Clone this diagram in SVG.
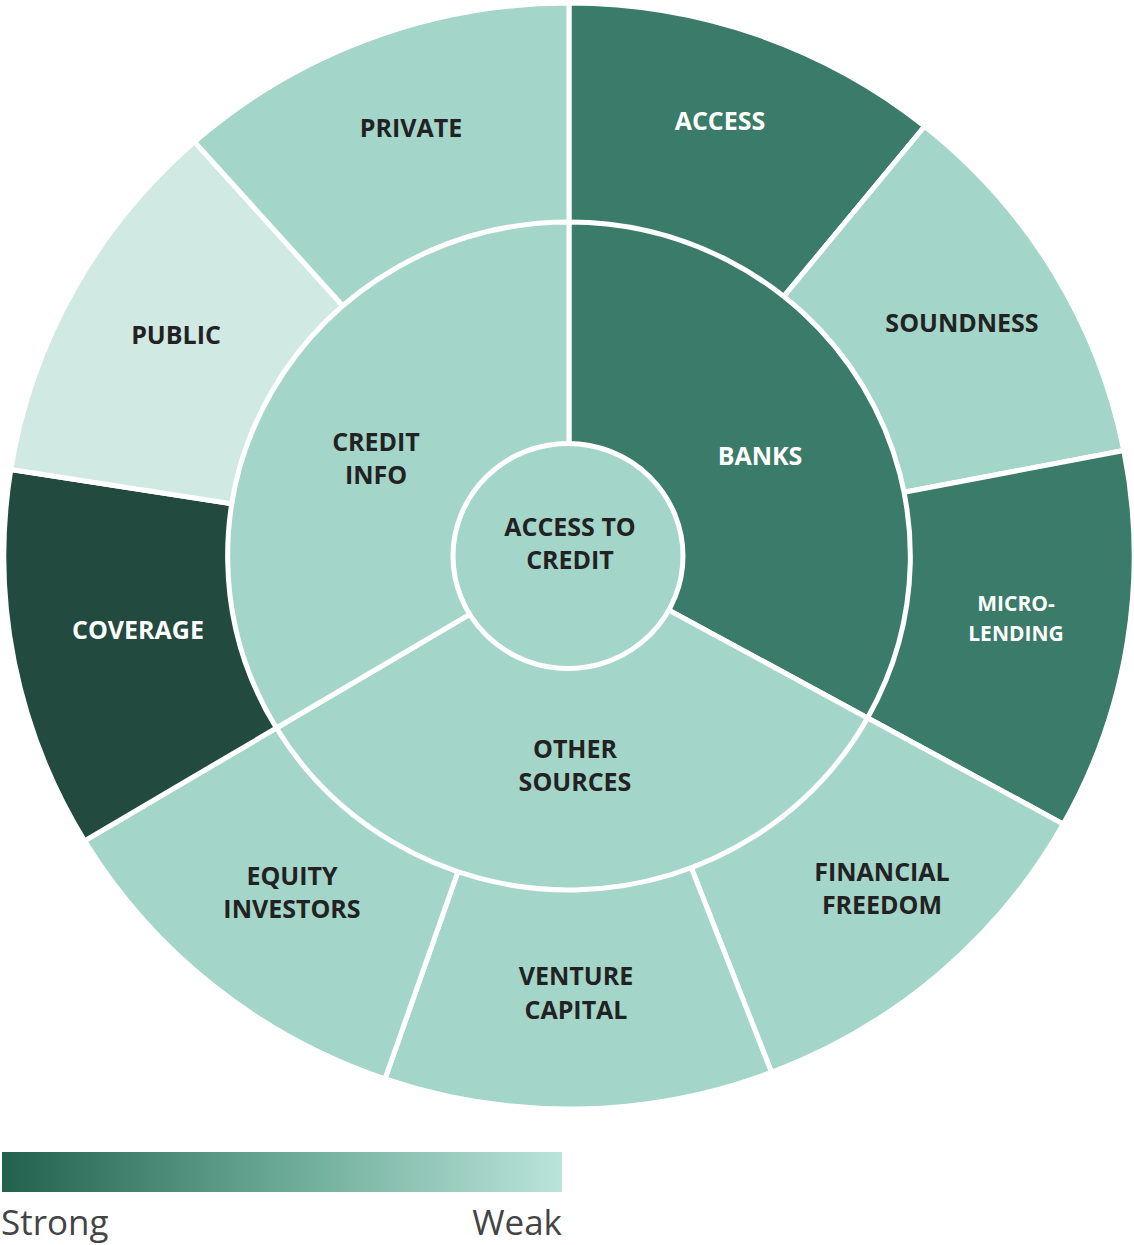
<svg xmlns="http://www.w3.org/2000/svg" width="1134" height="1245" viewBox="0 0 1134 1245">
<style>
.seg{stroke:#fff;stroke-width:5;stroke-linejoin:round;vector-effect:non-scaling-stroke}
.c1{fill:#3A7B69}
.c2{fill:#A4D5C9}
.c3{fill:#D1E9E3}
.c4{fill:#224A3E}
.lbl{font-family:"Open Sans","Liberation Sans",sans-serif;font-weight:700;font-size:25px;text-anchor:middle}
.sm{font-size:21px}
.dk{fill:#222}
.wt{fill:#fff}
.leg{font-family:"Open Sans","Noto Sans",sans-serif;font-size:35px;fill:#444}
</style>
<defs>
<linearGradient id="lg" x1="0" y1="0" x2="1" y2="0">
<stop offset="0" stop-color="#23614F"/>
<stop offset="0.5" stop-color="#6AA996"/>
<stop offset="1" stop-color="#BAE4D9"/>
</linearGradient>
</defs>
<g id="outer-ring">
<g id="access"><path class="seg c1" transform="translate(569,556) scale(1.022,1)" d="M0,0 L0,-553 A553,553 0 0 1 348.01,-429.76 Z"/><text class="lbl wt" x="720" y="130">ACCESS</text></g>
<g id="soundness"><path class="seg c2" transform="translate(569,556) scale(1.022,1)" d="M0,0 L348.01,-429.76 A553,553 0 0 1 542.84,-105.52 Z"/><text class="lbl dk" x="962" y="332">SOUNDNESS</text></g>
<g id="micro-lending"><path class="seg c1" transform="translate(569,556) scale(1.022,1)" d="M0,0 L542.84,-105.52 A553,553 0 0 1 483.66,268.10 Z"/><text class="lbl wt sm" x="1016" y="611">MICRO-</text><text class="lbl wt sm" x="1016" y="641">LENDING</text></g>
<g id="financial-freedom"><path class="seg c2" transform="translate(569,556) scale(1.022,1)" d="M0,0 L483.66,268.10 A553,553 0 0 1 198.18,516.27 Z"/><text class="lbl dk" x="882" y="881">FINANCIAL</text><text class="lbl dk" x="882" y="914">FREEDOM</text></g>
<g id="venture-capital"><path class="seg c2" transform="translate(569,556) scale(1.022,1)" d="M0,0 L198.18,516.27 A553,553 0 0 1 -180.04,522.87 Z"/><text class="lbl dk" x="576" y="985">VENTURE</text><text class="lbl dk" x="576" y="1019">CAPITAL</text></g>
<g id="equity-investors"><path class="seg c2" transform="translate(569,556) scale(1.022,1)" d="M0,0 L-180.04,522.87 A553,553 0 0 1 -474.0,284.82 Z"/><text class="lbl dk" x="292" y="885">EQUITY</text><text class="lbl dk" x="292" y="918">INVESTORS</text></g>
<g id="coverage"><path class="seg c4" transform="translate(569,556) scale(1.022,1)" d="M0,0 L-474.0,284.82 A553,553 0 0 1 -546.19,-86.51 Z"/><text class="lbl wt" x="138" y="639">COVERAGE</text></g>
<g id="public"><path class="seg c3" transform="translate(569,556) scale(1.022,1)" d="M0,0 L-546.19,-86.51 A553,553 0 0 1 -366.43,-414.17 Z"/><text class="lbl dk" x="176" y="344">PUBLIC</text></g>
<g id="private"><path class="seg c2" transform="translate(569,556) scale(1.022,1)" d="M0,0 L-366.43,-414.17 A553,553 0 0 1 0,-553 Z"/><text class="lbl dk" x="411" y="137">PRIVATE</text></g>
</g>
<g id="inner-ring">
<g id="banks"><path class="seg c1" transform="translate(569,556) scale(1.022,1)" d="M0,0 L0,-334 A334,334 0 0 1 292.12,161.93 Z"/><text class="lbl wt" x="760" y="465">BANKS</text></g>
<g id="other-sources"><path class="seg c2" transform="translate(569,556) scale(1.022,1)" d="M0,0 L292.12,161.93 A334,334 0 0 1 -286.29,172.02 Z"/><text class="lbl dk" x="575" y="758">OTHER</text><text class="lbl dk" x="575" y="791">SOURCES</text></g>
<g id="credit-info"><path class="seg c2" transform="translate(569,556) scale(1.022,1)" d="M0,0 L-286.29,172.02 A334,334 0 0 1 0,-334 Z"/><text class="lbl dk" x="376" y="451">CREDIT</text><text class="lbl dk" x="376" y="484">INFO</text></g>
</g>
<g id="center">
<ellipse class="seg c2" cx="568" cy="556" rx="115" ry="112.5" style="vector-effect:none"/>
<text class="lbl dk" x="570" y="536">ACCESS TO</text>
<text class="lbl dk" x="570" y="569">CREDIT</text>
</g>
<g id="connectors"/>
<g id="legend">
<rect x="2" y="1152" width="560" height="40" fill="url(#lg)"/>
<text class="leg" x="1" y="1235">Strong</text>
<text class="leg" x="562" y="1235" text-anchor="end">Weak</text>
</g>
</svg>
